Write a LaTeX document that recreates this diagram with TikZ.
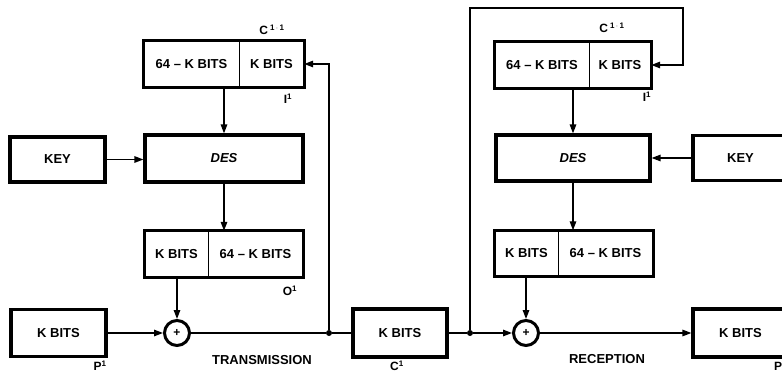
\documentclass[tikz,border=0pt]{standalone}
\usepackage{fontspec}
\setmainfont{Liberation Sans}
\usetikzlibrary{positioning,arrows.meta,calc}

\begin{document}
\begin{tikzpicture}[
    x=1pt, y=-1pt,
    box/.style={rectangle, draw, line width=3.2pt, minimum height=47pt, inner sep=0pt, font=\fontsize{13}{15}\selectfont\bfseries},
    cell/.style={rectangle, minimum height=46pt, inner sep=0pt, font=\fontsize{13}{15}\selectfont\bfseries},
    frame/.style={line width=3.2pt},
    divider/.style={line width=1.4pt},
    line/.style={line width=1.4pt},
    arrow/.style={line width=1.4pt, -{Triangle[length=9pt,width=6.5pt]}},
    xor/.style={circle, draw, line width=3pt, minimum size=25pt, inner sep=0pt, font=\fontsize{12}{13}\selectfont\bfseries},
    junction/.style={circle, fill, inner sep=0pt, minimum size=6pt},
    tag/.style={font=\fontsize{12}{14}\selectfont\bfseries, inner sep=0pt},
    title/.style={font=\fontsize{13}{15}\selectfont\bfseries, inner sep=0pt}
]
\useasboundingbox (0,0) rectangle (782,374);
\clip (0,0) rectangle (782,374);

% Transmission side
\node[cell, minimum width=95pt] (topLa) at (191.5,64) {64 -- K BITS};
\node[cell, minimum width=65pt] (topLb) at (271.5,64) {K BITS};
\draw[frame] (topLa.north west) rectangle (topLb.south east);
\draw[divider] (topLa.north east) -- (topLa.south east);

\node[box, minimum width=95pt, minimum height=45pt] (keyL) at (57.5,159.5) {KEY};
\node[box, minimum width=158pt] (desL) at (224,158.5) {\itshape DES};

\node[cell, minimum width=63pt] (botLa) at (176.5,254) {K BITS};
\node[cell, minimum width=95pt] (botLb) at (255.5,254) {64 -- K BITS};
\draw[frame] (botLa.north west) rectangle (botLb.south east);
\draw[divider] (botLa.north east) -- (botLa.south east);

\node[box, minimum width=95pt] (pL) at (58.5,333) {K BITS};
\node[xor] (xorL) at (177,333) {+};
\node[junction] (jL) at (329,333) {};

% Channel
\node[box, minimum width=94pt, minimum height=48pt] (cbox) at (400,333) {K BITS};
\node[junction] (jR) at (470,333) {};
\coordinate (loop) at (683,8);

% Reception side
\node[cell, minimum width=94pt] (topRa) at (542,65) {64 -- K BITS};
\node[cell, minimum width=62pt] (topRb) at (620,65) {K BITS};
\draw[frame] (topRa.north west) rectangle (topRb.south east);
\draw[divider] (topRa.north east) -- (topRa.south east);

\node[box, minimum width=154pt, minimum height=46pt] (desR) at (573,158) {\itshape DES};
\node[box, minimum width=95pt, minimum height=45pt] (keyR) at (740.5,158) {KEY};

\node[cell, minimum width=63pt] (botRa) at (526.5,253.5) {K BITS};
\node[cell, minimum width=95pt] (botRb) at (605.5,253.5) {64 -- K BITS};
\draw[frame] (botRa.north west) rectangle (botRb.south east);
\draw[divider] (botRa.north east) -- (botRa.south east);

\node[xor] (xorR) at (526,333) {+};
\node[box, minimum width=95pt, minimum height=48pt] (pR) at (740.5,333) {K BITS};

% Connectors, transmission
\draw[arrow] (keyL.east) -- (keyL.east -| desL.west);
\draw[arrow] (desL.north |- topLa.south) -- (desL.north);
\draw[arrow] (desL.south) -- (desL.south |- botLb.north);
\draw[arrow] (xorL.north |- botLa.south) -- (xorL.north);
\draw[arrow] (pL.east) -- (xorL.west);
\draw[line] (xorL.east) -- (jL) -- (cbox.west);
\draw[arrow] (jL) |- (topLb.east);

% Connectors, reception
\draw[line] (cbox.east) -- (jR);
\draw[arrow] (jR) -- (xorR.west);
\draw[arrow] (jR) |- (loop) |- (topRb.east);
\draw[arrow] (desR.north |- topRa.south) -- (desR.north);
\draw[arrow] (keyR.west) -- (desR.east);
\draw[arrow] (desR.south) -- (desR.south |- botRb.north);
\draw[arrow] (xorR.north |- botRa.south) -- (xorR.north);
\draw[arrow] (xorR.east) -- (pR.west);

% Labels
\node[tag] (lblCa) at (272,30) {C\,\textsuperscript{1\,$\cdot$\,1}};
\node[tag] (lblIa) at (288,99) {I\textsuperscript{1}};
\node[tag] (lblO) at (290,291) {O\textsuperscript{1}};
\node[tag] (lblPa) at (100,366) {P\textsuperscript{1}};
\node[title] (lblTx) at (262,360) {TRANSMISSION};
\node[tag] (lblC) at (397,366) {C\textsuperscript{1}};
\node[tag] (lblCb) at (612,28) {C\,\textsuperscript{1\,$\cdot$\,1}};
\node[tag] (lblIb) at (647,97) {I\textsuperscript{1}};
\node[title] (lblRx) at (607,359) {RECEPTION};
\node[tag] (lblPb) at (778,366) {P};

\end{tikzpicture}
\end{document}
